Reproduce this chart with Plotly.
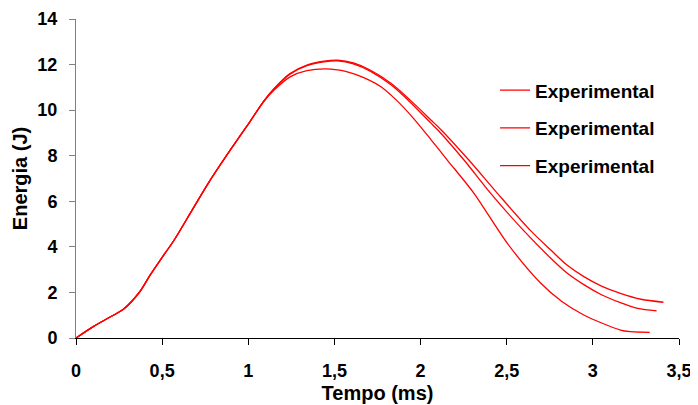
import plotly.graph_objects as go

# ---- data ----
t_a = [0, 0.1, 0.2, 0.275, 0.37, 0.43, 0.49, 0.57, 0.68, 0.78, 0.9, 1.01, 1.09, 1.15,
       1.24, 1.34, 1.44, 1.52, 1.61, 1.71, 1.83, 1.94, 2.06, 2.12, 2.28, 2.446, 2.64,
       2.756, 2.85, 2.95, 3.05, 3.16, 3.28, 3.41]
e_a = [0, 0.5, 0.93, 1.26, 2.03, 2.76, 3.43, 4.3, 5.69, 6.94, 8.3, 9.5, 10.4, 10.95,
       11.6, 11.98, 12.15, 12.19, 12.07, 11.75, 11.17, 10.44, 9.57, 9.13, 7.81, 6.35, 4.7,
       3.86, 3.2, 2.68, 2.28, 1.96, 1.7, 1.57]

t_b = [0, 0.1, 0.2, 0.275, 0.37, 0.43, 0.49, 0.57, 0.68, 0.78, 0.9, 1.01, 1.09, 1.15,
       1.24, 1.34, 1.44, 1.52, 1.61, 1.71, 1.83, 1.94, 2.06, 2.1, 2.252, 2.407, 2.6,
       2.756, 2.85, 2.95, 3.05, 3.16, 3.26, 3.37]
e_b = [0, 0.5, 0.93, 1.26, 2.03, 2.76, 3.43, 4.3, 5.69, 6.94, 8.3, 9.5, 10.4, 10.93,
       11.57, 11.95, 12.12, 12.16, 12.03, 11.7, 11.1, 10.35, 9.43, 9.13, 7.81, 6.35, 4.7,
       3.5, 2.85, 2.33, 1.9, 1.55, 1.3, 1.19]

t_c = [0, 0.1, 0.2, 0.275, 0.37, 0.43, 0.49, 0.57, 0.68, 0.78, 0.9, 1.01, 1.09, 1.15,
       1.24, 1.34, 1.48, 1.59, 1.67, 1.77, 1.86, 1.96, 2.06, 2.155, 2.31, 2.504, 2.698,
       2.82, 2.95, 3.16, 3.22, 3.33]
e_c = [0, 0.5, 0.93, 1.26, 2.03, 2.76, 3.43, 4.3, 5.69, 6.94, 8.3, 9.5, 10.38, 10.88,
       11.45, 11.73, 11.8, 11.65, 11.43, 11.03, 10.44, 9.63, 8.71, 7.81, 6.35, 4.15, 2.4,
       1.6, 1.0, 0.35, 0.28, 0.25]

series_names = ["Experimental", "Experimental", "Experimental"]

x_tickvals = [0, 0.5, 1, 1.5, 2, 2.5, 3, 3.5]
x_ticktext = ["0", "0,5", "1", "1,5", "2", "2,5", "3", "3,5"]
y_tickvals = [0, 2, 4, 6, 8, 10, 12, 14]

FONT = "Liberation Sans, Arial, sans-serif"

fig = go.Figure()
for i, (tx, ey) in enumerate([(t_a, e_a), (t_b, e_b), (t_c, e_c)]):
    fig.add_trace(go.Scatter(
        x=tx, y=ey, mode="lines", name=series_names[i],
        legendgroup=f"g{i}",
        line=dict(color="#FF0000", width=1.3, shape="spline", smoothing=0.8),
    ))

# the page body has an 8px margin, so the figure is 8px smaller each way
fig.update_layout(
    width=690, height=397,
    margin=dict(l=68, r=19, t=11, b=67),
    paper_bgcolor="white", plot_bgcolor="white",
    font=dict(family=FONT, size=18, color="black"),
    showlegend=True,
    legend=dict(
        x=0.695, y=0.836, xanchor="left", yanchor="top",
        font=dict(family=FONT, size=19, color="black", weight="bold"),
        itemwidth=30, tracegroupgap=10, bgcolor="rgba(0,0,0,0)",
    ),
    xaxis=dict(
        range=[0, 3.5], tickvals=x_tickvals, ticktext=x_ticktext,
        showgrid=False, zeroline=False, showline=True, linecolor="black", linewidth=1,
        ticks="outside", ticklen=6, tickcolor="black",
        tickfont=dict(family=FONT, size=18, weight="bold"),
        ticklabelstandoff=10,
        title=dict(text="<b>Tempo (ms)</b>", font=dict(family=FONT, size=20), standoff=6),
        automargin=False,
    ),
    yaxis=dict(
        range=[0, 14], tickvals=y_tickvals,
        showgrid=False, zeroline=False, showline=True, linecolor="#808080", linewidth=1,
        ticks="outside", ticklen=6, tickcolor="#808080",
        tickfont=dict(family=FONT, size=18, weight="bold"),
        ticklabelstandoff=8,
        title=dict(text="<b>Energia (J)</b>", font=dict(family=FONT, size=20), standoff=4),
        automargin=False,
    ),
)

fig.write_html("out.html")
